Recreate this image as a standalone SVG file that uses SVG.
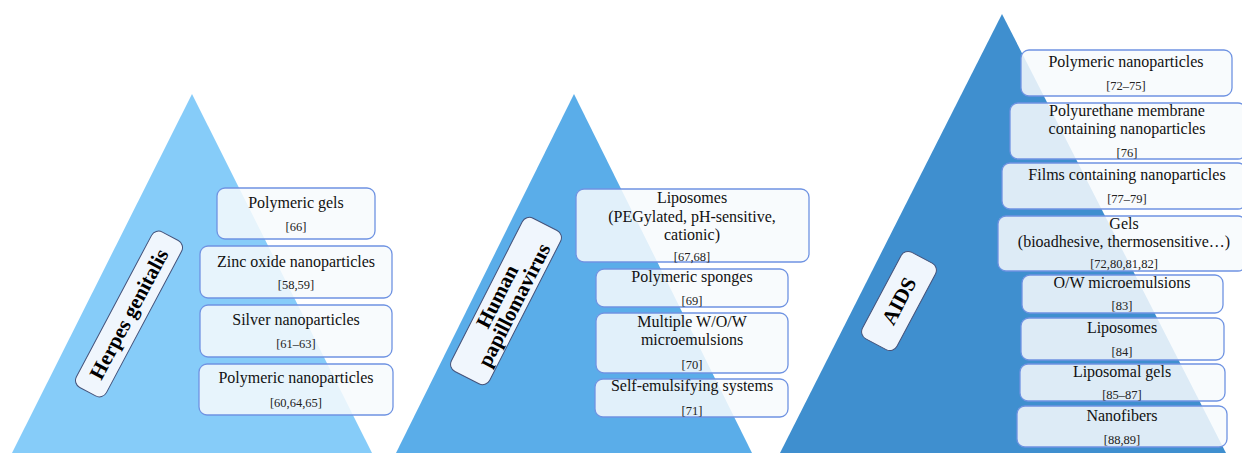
<svg xmlns="http://www.w3.org/2000/svg" width="1242" height="453" viewBox="0 0 1242 453">
<style>
.box{fill:#F7FAFD;fill-opacity:0.86;stroke:#6F93E2;stroke-width:1.3}
.lab{fill:#F0F6FD;stroke:#44527A;stroke-width:1}
.t{font-family:"Liberation Serif","Times New Roman",serif;font-size:16px;fill:#111;text-anchor:middle}
.r{font-family:"Liberation Serif","Times New Roman",serif;font-size:12.5px;fill:#222;text-anchor:middle}
.h{font-family:"Liberation Serif","Times New Roman",serif;font-size:21px;font-weight:bold;fill:#000;text-anchor:middle}
</style>
<rect width="1242" height="453" fill="#FFFFFF"/>
<g id="pyramids">
<polygon id="tri-herpes" points="192,94 12,453 372,453" fill="#86CCF9"/>
<polygon id="tri-hpv" points="574,94 396,453 752,453" fill="#5AADE9"/>
<polygon id="tri-aids" points="1002,14 780,453 1226,453" fill="#3F8FCF"/>
</g>
<g id="connectors"/>
<g id="herpes-items">
<g id="h1"><rect class="box" x="217" y="188" width="158" height="51" rx="8"/><text class="t" x="296" y="208">Polymeric gels</text><text class="r" x="296" y="231">[66]</text></g>
<g id="h2"><rect class="box" x="200" y="246" width="192" height="52" rx="8"/><text class="t" x="296" y="267">Zinc oxide nanoparticles</text><text class="r" x="296" y="289">[58,59]</text></g>
<g id="h3"><rect class="box" x="200" y="305" width="192" height="52" rx="8"/><text class="t" x="296" y="325">Silver nanoparticles</text><text class="r" x="296" y="348">[61–63]</text></g>
<g id="h4"><rect class="box" x="199" y="364" width="194" height="51" rx="8"/><text class="t" x="296" y="383">Polymeric nanoparticles</text><text class="r" x="296" y="407">[60,64,65]</text></g>
</g>
<g id="herpes-label" transform="translate(129,314) rotate(-62)"><rect class="lab" x="-88" y="-17" width="176" height="34" rx="8"/><text class="h" x="0" y="7">Herpes genitalis</text></g>
<g id="hpv-items">
<g id="p1"><rect class="box" x="576" y="189" width="233" height="73" rx="8"/><text class="t" x="692" y="203">Liposomes</text><text class="t" x="692" y="222">(PEGylated, pH-sensitive,</text><text class="t" x="692" y="240">cationic)</text><text class="r" x="692" y="261">[67,68]</text></g>
<g id="p2"><rect class="box" x="596" y="269" width="192" height="38" rx="8"/><text class="t" x="692" y="282">Polymeric sponges</text><text class="r" x="692" y="305">[69]</text></g>
<g id="p3"><rect class="box" x="596" y="313" width="192" height="60" rx="8"/><text class="t" x="692" y="327">Multiple W/O/W</text><text class="t" x="692" y="345">microemulsions</text><text class="r" x="692" y="369">[70]</text></g>
<g id="p4"><rect class="box" x="595" y="379" width="193" height="38" rx="8"/><text class="t" x="692" y="391">Self-emulsifying systems</text><text class="r" x="692" y="415">[71]</text></g>
</g>
<g id="hpv-label" transform="translate(506,301) rotate(-63)"><rect class="lab" x="-86" y="-21.5" width="172" height="43" rx="8"/><text class="h" x="0" y="-3">Human</text><text class="h" x="0" y="16">papillomavirus</text></g>
<g id="aids-items">
<g id="a1"><rect class="box" x="1021" y="50" width="211" height="46" rx="8"/><text class="t" x="1126" y="67">Polymeric nanoparticles</text><text class="r" x="1126" y="90">[72–75]</text></g>
<g id="a2"><rect class="box" x="1010" y="103" width="236" height="56" rx="8"/><text class="t" x="1127" y="116">Polyurethane membrane</text><text class="t" x="1127" y="134">containing nanoparticles</text><text class="r" x="1127" y="157">[76]</text></g>
<g id="a3"><rect class="box" x="1002" y="163" width="244" height="46" rx="8"/><text class="t" x="1127" y="180">Films containing nanoparticles</text><text class="r" x="1127" y="203">[77–79]</text></g>
<g id="a4"><rect class="box" x="998" y="216" width="248" height="55" rx="8"/><text class="t" x="1124" y="229">Gels</text><text class="t" x="1124" y="247">(bioadhesive, thermosensitive…)</text><text class="r" x="1124" y="268">[72,80,81,82]</text></g>
<g id="a5"><rect class="box" x="1022" y="275" width="201" height="38" rx="8"/><text class="t" x="1122" y="288">O/W microemulsions</text><text class="r" x="1122" y="310">[83]</text></g>
<g id="a6"><rect class="box" x="1021" y="318" width="203" height="42" rx="8"/><text class="t" x="1122" y="333">Liposomes</text><text class="r" x="1122" y="356">[84]</text></g>
<g id="a7"><rect class="box" x="1020" y="364" width="205" height="37" rx="8"/><text class="t" x="1122" y="377">Liposomal gels</text><text class="r" x="1122" y="399">[85–87]</text></g>
<g id="a8"><rect class="box" x="1017" y="406" width="210" height="41" rx="8"/><text class="t" x="1122" y="421">Nanofibers</text><text class="r" x="1122" y="444">[88,89]</text></g>
</g>
<g id="aids-label" transform="translate(899,301) rotate(-62)"><rect class="lab" x="-49" y="-19.5" width="98" height="39" rx="8"/><text class="h" x="0" y="7">AIDS</text></g>
</svg>
